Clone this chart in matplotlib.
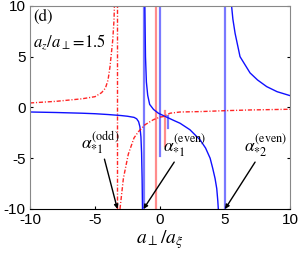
import matplotlib
matplotlib.use('Agg')
import matplotlib.pyplot as plt

plt.rcParams['mathtext.fontset'] = 'stix'
plt.rcParams['font.family'] = ['Liberation Sans', 'DejaVu Sans']

# blue (solid) branches
blue_l_x = [-10, -8, -6, -5, -4, -3, -2.5, -2, -1.8, -1.65, -1.55, -1.47, -1.42, -1.38, -1.35]
blue_l_y = [-0.45, -0.5, -0.57, -0.62, -0.7, -0.8, -0.87, -0.98, -1.12, -1.4, -1.9, -2.9, -4.5, -7, -10]
blue_m_x = [-1.17, -1.12, -1.05, -0.95, -0.8, -0.5, -0.13, 0.5, 1.0, 1.54, 2.3, 3.08, 3.5, 3.85, 4.05, 4.23, 4.36, 4.44, 4.48]
blue_m_y = [10, 5, 2.5, 1.2, 0.3, -0.2, -0.57, -0.95, -1.25, -1.56, -2.2, -3.2, -4, -5, -6, -7, -8, -9.2, -10]
blue_r_x = [5.5, 5.6, 5.77, 6.15, 6.92, 7.5, 8.2, 9, 10]
blue_r_y = [10, 8.7, 7.3, 5.0, 3.4, 2.7, 2.05, 1.55, 1.16]

# red (dash-dot) branches
red_l_x = [-10, -8, -6, -5, -4.5, -4.2, -4, -3.85, -3.64, -3.54, -3.51]
red_l_y = [0.44, 0.6, 0.85, 1.06, 1.45, 1.9, 2.7, 4.0, 6.6, 8.6, 10]
red_r_x = [-3.08, -2.82, -2.44, -2.0, -1.67, -1.15, -0.5, 0, 0.25, 0.77, 1.54, 3.1, 5, 6.9, 10]
red_r_y = [-10, -7, -4.6, -3.0, -2.4, -1.7, -1.2, -0.95, -0.9, -0.57, -0.45, -0.41, -0.32, -0.25, -0.18]

# resonance markers: (x, y_bottom, y_top)
blue_vlines = [(-1.27, -10, 10), (5.0, -10, 10), (0.0, -4.8, 10), (0.6, -2.0, -0.8)]
red_vlines = [(-0.3, -9.9, 10), (0.4, -3.8, -0.4)]
red_asym = -3.28

labels = [r'$\alpha_{*1}^{\rm (odd)}$', r'$\alpha_{*1}^{\rm (even)}$', r'$\alpha_{*2}^{\rm (even)}$']
label_pos = [(-4.6, -3.5), (1.9, -3.8), (8.1, -3.8)]
arrow_to = [(-3.28, -10), (-1.27, -10), (5.0, -10)]

fig = plt.figure(figsize=(3, 2.57), dpi=100)
ax = fig.add_axes([0.1, 0.187, 0.867, 0.79])

dd = (0, (3, 1.3, 0.8, 1.3))
for x, y0, y1 in blue_vlines:
    ax.plot([x, x], [y0, y1], color='#4040ff', alpha=0.7, lw=1.6)
for x, y0, y1 in red_vlines:
    ax.plot([x, x], [y0, y1], color='#ff4040', alpha=0.6, lw=1.6)
ax.plot([red_asym, red_asym], [-10, 10], color='red', lw=1, ls=dd, alpha=0.85)

ax.plot(blue_l_x, blue_l_y, color='#1010ff', lw=1)
ax.plot(blue_m_x, blue_m_y, color='#1010ff', lw=1)
ax.plot(blue_r_x, blue_r_y, color='#1010ff', lw=1)
ax.plot(red_l_x, red_l_y, color='red', lw=1, ls=dd, alpha=0.85)
ax.plot(red_r_x, red_r_y, color='red', lw=1, ls=dd, alpha=0.85)

for lab, pos, tgt in zip(labels, label_pos, arrow_to):
    ax.annotate(lab, xy=tgt, xytext=pos, ha='center', va='center', fontsize=12.5,
                arrowprops=dict(arrowstyle='-|>', color='black', lw=1,
                                mutation_scale=6, shrinkA=0, shrinkB=0))

ax.text(0.012, 0.985, '(d)', transform=ax.transAxes, ha='left', va='top',
        fontsize=12, family='STIXGeneral')
ax.text(0.012, 0.87, r'$a_z/a_\perp\!=\!1.5$', transform=ax.transAxes,
        ha='left', va='top', fontsize=12)

ax.set_xlim(-10, 10)
ax.set_ylim(-10, 10)
ax.set_xticks([-10, -5, 0, 5, 10])
ax.set_yticks([-10, -5, 0, 5, 10])
ax.set_xticklabels(['-10', '-5', '0', '5', '10'])
ax.set_yticklabels(['-10', '-5', '0', '5', '10'])
ax.tick_params(direction='in', length=2.5, width=0.8, labelsize=11,
               right=True, top=False, pad=3)
for s in ['top', 'right', 'left']:
    ax.spines[s].set_color('#888888')
ax.spines['bottom'].set_color('black')
ax.set_xlabel(r'$a_\perp/a_\xi$', fontsize=14, labelpad=1)

fig.savefig('out.png', dpi=100)
